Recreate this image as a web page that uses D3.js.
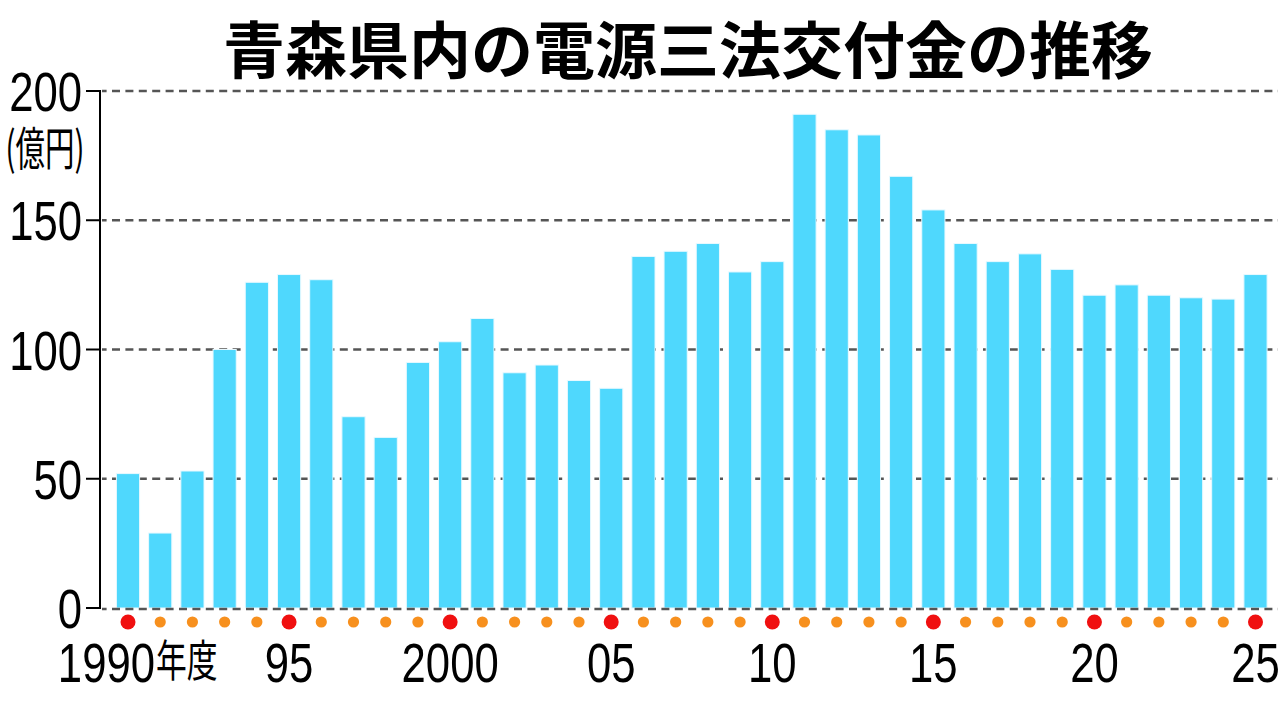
<!DOCTYPE html>
<html>
<head>
<meta charset="utf-8">
<script src="https://cdn.jsdelivr.net/npm/d3@7"></script>
<style>
  body { margin: 0; background: #fff; }
  svg { display: block; }
</style>
</head>
<body>
<div id="chart"></div>
<script>
// 青森県内の電源三法交付金（億円）
var years = [1990, 1991, 1992, 1993, 1994, 1995, 1996, 1997, 1998, 1999,
             2000, 2001, 2002, 2003, 2004, 2005, 2006, 2007, 2008, 2009,
             2010, 2011, 2012, 2013, 2014, 2015, 2016, 2017, 2018, 2019,
             2020, 2021, 2022, 2023, 2024, 2025];
var amounts = [52, 29, 53, 100, 126, 129, 127, 74, 66, 95,
               103, 112, 91, 94, 88, 85, 136, 138, 141, 130,
               134, 191, 185, 183, 167, 154, 141, 134, 137, 131,
               121, 125, 121, 120, 119.5, 129];
var yTicks = [0, 50, 100, 150, 200];
var xTickYears = [1990, 1995, 2000, 2005, 2010, 2015, 2020, 2025];
var xTickLabels = ["1990", "95", "2000", "05", "10", "15", "20", "25"];
var title = "青森県内の電源三法交付金の推移";
var unit = "(億円)";

(function () {
	var width = 1280, height = 704;
	var numFont = "'Liberation Sans', Arial, sans-serif",
		cjkFont = "'Noto Sans CJK JP', 'Noto Sans', sans-serif";
	var squeeze = 0.78;

	var color_bar = "#4fd8fd",
		color_red = "#f01010",
		color_orange = "#f7901e",
		color_grid = "#555555";

	var svg = d3.select("#chart").append("svg")
		.attr("width", width)
		.attr("height", height);

	var x = d3.scalePoint().domain(years).range([128, 1255.5]);
	var y = d3.scaleLinear().domain([0, 200]).range([608, 91]);
	var barW = x.step() * 0.72;
	var axisX = 100;

	// condensed number text
	function narrowText(g, tx, ty, str, size, anchor) {
		return g.append("text")
			.attr("transform", "translate(" + tx + "," + ty + ") scale(" + squeeze + ",1)")
			.attr("text-anchor", anchor || "middle")
			.attr("font-family", numFont)
			.attr("font-size", size)
			.attr("fill", "#000")
			.text(str);
	}

	// title
	svg.append("text")
		.attr("x", 688).attr("y", 74)
		.attr("text-anchor", "middle")
		.attr("font-family", cjkFont)
		.attr("font-weight", 700)
		.attr("font-size", 62)
		.attr("fill", "#000")
		.text(title);

	// dashed grid lines (behind bars)
	svg.selectAll(".grid").data(yTicks.filter(function (d) { return d > 0; }))
		.enter().append("line").attr("class", "grid")
		.attr("x1", axisX + 2).attr("x2", 1278)
		.attr("y1", function (d) { return y(d); })
		.attr("y2", function (d) { return y(d); })
		.attr("stroke", color_grid)
		.attr("stroke-width", 2.6)
		.attr("stroke-dasharray", "8,5.4")
		.attr("stroke-dashoffset", -10);

	// bars
	svg.selectAll(".bar").data(years)
		.enter().append("rect").attr("class", "bar")
		.attr("x", function (d) { return x(d) - barW / 2; })
		.attr("y", function (d, i) { return y(amounts[i]); })
		.attr("width", barW)
		.attr("height", function (d, i) { return y(0) - y(amounts[i]); })
		.attr("fill", color_bar)
		.attr("stroke", "#e8f9ff")
		.attr("stroke-width", 1);

	// zero line on top of bar bottoms
	svg.append("line")
		.attr("x1", axisX + 2).attr("x2", 1278)
		.attr("y1", y(0) + 1).attr("y2", y(0) + 1)
		.attr("stroke", color_grid)
		.attr("stroke-width", 2.6)
		.attr("stroke-dasharray", "8,5.4")
		.attr("stroke-dashoffset", -10);

	// y axis
	svg.append("line")
		.attr("x1", axisX).attr("x2", axisX)
		.attr("y1", y(200) - 1).attr("y2", y(0) + 1)
		.attr("stroke", "#000").attr("stroke-width", 2);
	svg.selectAll(".ytick").data(yTicks)
		.enter().append("line").attr("class", "ytick")
		.attr("x1", 86).attr("x2", axisX)
		.attr("y1", function (d) { return y(d); })
		.attr("y2", function (d) { return y(d); })
		.attr("stroke", "#000").attr("stroke-width", 2);

	var yLab = svg.append("g");
	yTicks.forEach(function (d) {
		narrowText(yLab, 82, y(d) + 20, String(d), 56, "end");
	});

	// unit
	svg.append("text")
		.attr("transform", "translate(45,165) scale(0.64,1)")
		.attr("text-anchor", "middle")
		.attr("font-family", cjkFont)
		.attr("font-size", 46)
		.attr("fill", "#000")
		.text(unit);

	// year dots: red every 5 years
	svg.selectAll(".dot").data(years)
		.enter().append("circle").attr("class", "dot")
		.attr("cx", function (d) { return x(d); })
		.attr("cy", 622)
		.attr("r", function (d) { return d % 5 == 0 ? 7.5 : 5.6; })
		.attr("fill", function (d) { return d % 5 == 0 ? color_red : color_orange; });

	// x labels
	var xLab = svg.append("g");
	xTickYears.forEach(function (yr, i) {
		if (i == 0) {
			narrowText(xLab, x(yr) + 27, 682, xTickLabels[i], 56, "end");
			xLab.append("text")
				.attr("transform", "translate(" + (x(yr) + 28) + ",677) scale(0.7,1)")
				.attr("font-family", cjkFont)
				.attr("font-size", 44)
				.attr("fill", "#000")
				.text("年度");
		} else {
			narrowText(xLab, x(yr), 682, xTickLabels[i], 56, "middle");
		}
	});
})();
</script>
</body>
</html>
